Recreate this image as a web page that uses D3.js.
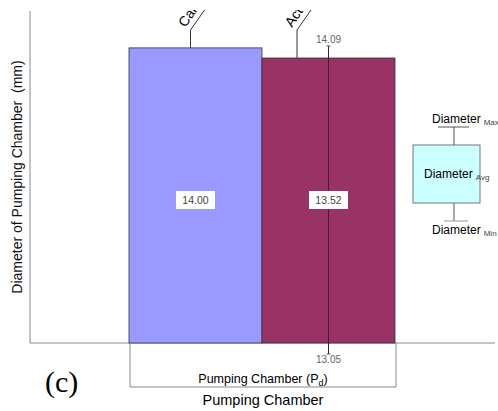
<!DOCTYPE html>
<html><head><meta charset="utf-8">
<script src="https://cdn.jsdelivr.net/npm/d3@7"></script>
<style>body{margin:0;background:#fff}svg{display:block}</style>
</head><body>
<svg id="c" width="498" height="411"></svg>
<script>
const categories = ["Calculated", "Actual"];
const values = [14.00, 13.52];
const errMax = [null, 14.09];
const errMin = [null, 13.05];
const colors = ["#9999ff", "#993366"];
const yDomain = [0, 15.75];

const svg = d3.select("#c");
const font = "'Liberation Sans', Arial, sans-serif";
const x = d3.scaleBand().domain(categories).range([129, 395]).padding(0);
const y = d3.scaleLinear().domain(yDomain).range([343, 11]);
const axisGray = "#888";

svg.append("defs").append("clipPath").attr("id","top").append("rect")
  .attr("x",0).attr("y",10).attr("width",498).attr("height",401);

// axes
svg.append("line").attr("x1",30).attr("x2",30).attr("y1",y.range()[1]).attr("y2",y(0)).attr("stroke",axisGray);
svg.append("line").attr("x1",30).attr("x2",495).attr("y1",y(0)).attr("y2",y(0)).attr("stroke",axisGray);

// bars
svg.selectAll("rect.bar").data(categories).join("rect").attr("class","bar")
  .attr("x",d=>x(d)).attr("width",x.bandwidth())
  .attr("y",(d,i)=>y(values[i])).attr("height",(d,i)=>y(0)-y(values[i]))
  .attr("fill",(d,i)=>colors[i]).attr("stroke","#333").attr("stroke-width",0.8);

// error bars
categories.forEach((c,i)=>{
  if(errMax[i]==null) return;
  const cx = x(c)+x.bandwidth()/2;
  const yb = y(0)+11;
  svg.append("line").attr("x1",cx).attr("x2",cx).attr("y1",y(errMax[i])).attr("y2",yb).attr("stroke","#4a1a33").attr("stroke-width",1);
  svg.append("line").attr("x1",cx-2).attr("x2",cx+2).attr("y1",y(errMax[i])).attr("y2",y(errMax[i])).attr("stroke","#555");
  svg.append("line").attr("x1",cx-2).attr("x2",cx+2).attr("y1",yb).attr("y2",yb).attr("stroke","#555");
  svg.append("text").attr("x",cx).attr("y",y(errMax[i])-3).attr("text-anchor","middle")
    .attr("font-family",font).attr("font-size",10).attr("fill","#666").text(errMax[i].toFixed(2));
  svg.append("text").attr("x",cx).attr("y",yb+9).attr("text-anchor","middle")
    .attr("font-family",font).attr("font-size",10).attr("fill","#666").text(errMin[i].toFixed(2));
});

// value labels
categories.forEach((c,i)=>{
  const cx = x(c)+x.bandwidth()/2;
  const cy = 200;
  svg.append("rect").attr("x",cx-19.5).attr("y",cy-9).attr("width",39).attr("height",18).attr("fill","#fff");
  svg.append("text").attr("x",cx).attr("y",cy+4).attr("text-anchor","middle")
    .attr("font-family",font).attr("font-size",10.5).attr("fill","#444").text(values[i].toFixed(2));
});

// category leader labels (clipped at top like the reference)
const gTop = svg.append("g").attr("clip-path","url(#top)");
categories.forEach((c,i)=>{
  const lx = x(c) + (i===0 ? 61.5 : 35);
  const elbow = 30;
  gTop.append("line").attr("x1",lx).attr("x2",lx).attr("y1",y(values[i])).attr("y2",elbow).attr("stroke","#333");
  gTop.append("line").attr("x1",lx).attr("x2",lx+14).attr("y1",elbow).attr("y2",elbow-20).attr("stroke","#333");
  gTop.append("text").attr("transform",`translate(${lx-5},${elbow-2}) rotate(-56)`)
    .attr("font-family",font).attr("font-size",14).attr("fill","#000").text(c);
});

// y title
svg.append("text").attr("transform","translate(22,177) rotate(-90)").attr("text-anchor","middle")
  .attr("font-family",font).attr("font-size",14).attr("fill","#111").attr("xml:space","preserve")
  .text("Diameter of Pumping Chamber  (mm)");

// bottom bracket
const bx0 = x.range()[0]+1, bx1 = x.range()[1]+1, byb = 387;
svg.append("path").attr("d",`M${bx0},${y(0)}V${byb}H${bx1}V${y(0)}`).attr("fill","none").attr("stroke",axisGray);
const t1 = svg.append("text").attr("x",(bx0+bx1)/2).attr("y",383).attr("text-anchor","middle")
  .attr("font-family",font).attr("font-size",12.5).attr("fill","#000");
t1.append("tspan").text("Pumping Chamber (P");
t1.append("tspan").attr("font-size",9).attr("dy",3).text("d");
t1.append("tspan").attr("dy",-3).text(")");
svg.append("text").attr("x",(bx0+bx1)/2).attr("y",405).attr("text-anchor","middle")
  .attr("font-family",font).attr("font-size",14.5).attr("fill","#000").text("Pumping Chamber");

svg.append("text").attr("x",45).attr("y",392).attr("font-family","'Liberation Serif','Times New Roman',serif")
  .attr("font-size",30).attr("fill","#000").text("(c)");

// legend
const lg = svg.append("g");
const lcx = 454;
lg.append("rect").attr("x",413).attr("y",145).attr("width",67).attr("height",58).attr("fill","#ccffff").attr("stroke","#777");
lg.append("line").attr("x1",lcx).attr("x2",lcx).attr("y1",127).attr("y2",145).attr("stroke","#555");
lg.append("line").attr("x1",438).attr("x2",469).attr("y1",127).attr("y2",127).attr("stroke","#555");
lg.append("line").attr("x1",lcx).attr("x2",lcx).attr("y1",203).attr("y2",221).attr("stroke","#555");
lg.append("line").attr("x1",444).attr("x2",468).attr("y1",221).attr("y2",221).attr("stroke","#999");
function legText(xp, yp, sub){
  const t = lg.append("text").attr("x",xp).attr("y",yp).attr("font-family",font).attr("font-size",12).attr("fill","#000");
  t.append("tspan").text("Diameter");
  t.append("tspan").attr("font-size",8).attr("dx",3).attr("dy",2).attr("fill","#444").text(sub);
}
legText(432,123,"Max");
legText(424,178,"Avg");
legText(432,234,"Min");
</script>
</body></html>
